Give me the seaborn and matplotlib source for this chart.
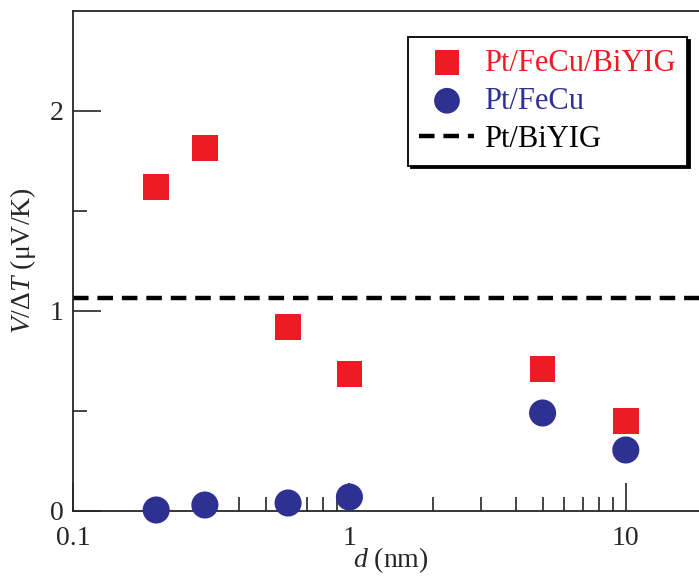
import matplotlib
matplotlib.use("Agg")
import matplotlib.pyplot as plt
import seaborn as sns
import pandas as pd
from matplotlib.ticker import LogLocator, FixedLocator, NullFormatter

# data
thickness = [0.2, 0.3, 0.6, 1, 5, 10]
v_fecu_biyig = [1.62, 1.815, 0.92, 0.685, 0.71, 0.45]
v_fecu = [0.005, 0.03, 0.04, 0.07, 0.49, 0.305]
v_biyig = 1.065

labels = ["Pt/FeCu/BiYIG", "Pt/FeCu", "Pt/BiYIG"]
red = "#ED1C24"
blue = "#2E3192"

sns.set_style("ticks")
plt.rcParams["font.family"] = ["Liberation Serif", "DejaVu Serif"]
plt.rcParams["mathtext.fontset"] = "custom"
plt.rcParams["mathtext.rm"] = "Liberation Serif"
plt.rcParams["mathtext.it"] = "Liberation Serif:italic"

df = pd.DataFrame({"d": thickness, "a": v_fecu_biyig, "b": v_fecu})

fig = plt.figure(figsize=(6.99, 5.77), dpi=100)
ax = fig.add_axes([73 / 699, 66 / 577, 636 / 699, 500 / 577])

ax.axhline(v_biyig, color="black", lw=3.2, ls=(0, (3.5, 2)), label=labels[2], zorder=1)
sns.scatterplot(data=df, x="d", y="a", marker="s", s=340, color=red,
                edgecolor="none", label=labels[0], ax=ax, zorder=3, clip_on=False)
sns.scatterplot(data=df, x="d", y="b", marker="o", s=380, color=blue,
                edgecolor="none", label=labels[1], ax=ax, zorder=3, clip_on=False)

ax.set_xscale("log")
ax.set_xlim(0.1, 20)
ax.set_ylim(0, 2.5)

ax.xaxis.set_major_locator(FixedLocator([0.1, 1, 10]))
ax.xaxis.set_major_formatter(matplotlib.ticker.FuncFormatter(lambda v, p: f"{v:g}"))
ax.xaxis.set_minor_locator(LogLocator(base=10, subs=range(2, 10)))
ax.xaxis.set_minor_formatter(NullFormatter())
ax.yaxis.set_major_locator(FixedLocator([0, 1, 2]))
ax.yaxis.set_minor_locator(FixedLocator([0.5, 1.5]))

ax.tick_params(which="both", direction="in", top=False, right=False, labelsize=20, width=1.2)
ax.tick_params(which="major", length=20)
ax.tick_params(which="minor", length=10)
ax.tick_params(axis="x", which="major", pad=11)
ax.tick_params(axis="y", which="major", pad=7)
for s in ax.spines.values():
    s.set_linewidth(1.3)
ax.spines["right"].set_visible(False)

ax.set_xlabel("$d$ (nm)", fontsize=20, labelpad=-4)
ax.set_ylabel("$V$/Δ$T$ (μV/K)", fontsize=20, labelpad=8)

handles, labs = ax.get_legend_handles_labels()
order = [labs.index(l) for l in labels]
leg = ax.legend([handles[i] for i in order], [labs[i] for i in order],
                loc="upper right", bbox_to_anchor=(687 / 699, 1 - 37 / 577),
                bbox_transform=fig.transFigure, borderaxespad=0,
                fontsize=22, frameon=True, fancybox=False, shadow={"color": "black", "alpha": 1},
                edgecolor="black", framealpha=1, handlelength=1.8, handletextpad=0.3,
                borderpad=0.38, labelspacing=0.3, markerscale=0.95)
leg.get_frame().set_linewidth(1.3)
for t, c in zip(leg.get_texts(), [red, blue, "black"]):
    t.set_color(c)

fig.savefig("out.png", dpi=100)
